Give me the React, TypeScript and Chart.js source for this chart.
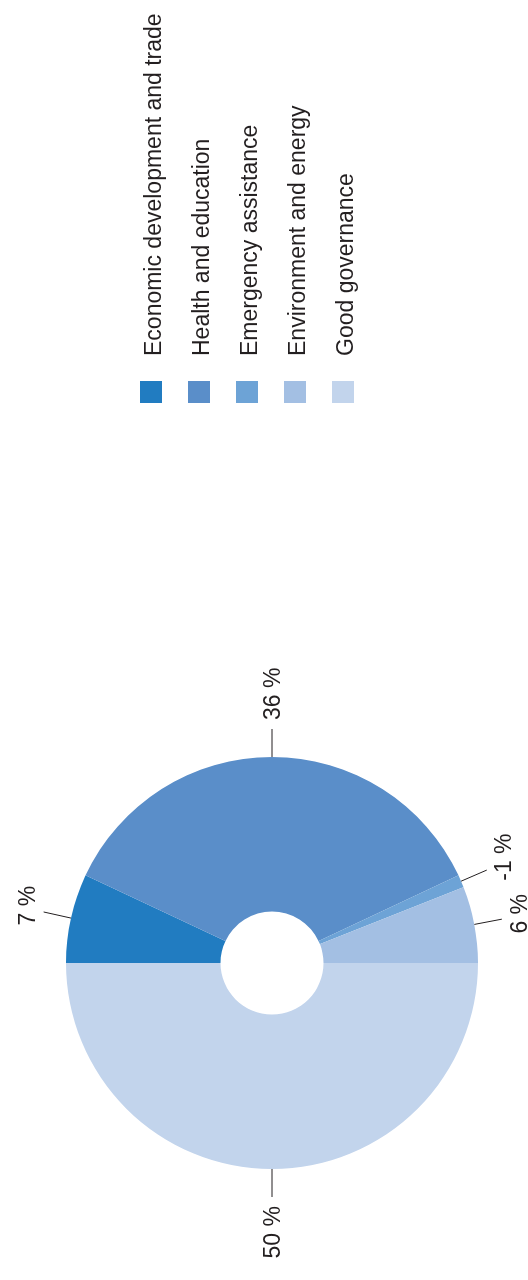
import React, { useEffect, useRef } from "react";
import { Chart, registerables } from "chart.js";

Chart.register(...registerables);

// ---- data ----
const categories = [
  "Economic development and trade",
  "Health and education",
  "Emergency assistance",
  "Environment and energy",
  "Good governance",
];
const shares = [7, 36, -1, 6, 50];
const colors = ["#217CC1", "#5A8EC9", "#6DA3D6", "#A3BFE3", "#C2D4EC"];

const FONT = '"Liberation Sans", Arial, Helvetica, sans-serif';
const TEXT_COLOR = "#231F20";

const labelPlugin = {
  id: "outLabels",
  afterDatasetsDraw(chart: any) {
    const ctx = chart.ctx as CanvasRenderingContext2D;
    const meta = chart.getDatasetMeta(0);
    const size = 23;
    const capH = size * 0.716;
    ctx.save();
    ctx.font = `${size}px ${FONT}`;
    ctx.fillStyle = TEXT_COLOR;
    ctx.strokeStyle = "#231F20";
    ctx.lineWidth = 1;
    meta.data.forEach((arc: any, i: number) => {
      const p = arc.getProps(["x", "y", "startAngle", "endAngle", "outerRadius"], true);
      const mid = (p.startAngle + p.endAngle) / 2;
      const dx = Math.cos(mid);
      const dy = Math.sin(mid);
      const r0 = p.outerRadius;
      const r1 = p.outerRadius + 28;
      ctx.beginPath();
      ctx.moveTo(p.x + dx * r0, p.y + dy * r0);
      ctx.lineTo(p.x + dx * r1, p.y + dy * r1);
      ctx.stroke();
      const text = `${shares[i]} %`;
      const w = ctx.measureText(text).width;
      const gap = 9;
      const cx = p.x + dx * (r1 + gap) + (dx * w) / 2;
      const cy = p.y + dy * (r1 + gap) + (dy * capH) / 2;
      ctx.textAlign = "center";
      ctx.textBaseline = "alphabetic";
      ctx.fillText(text, cx, cy + capH / 2);
    });
    ctx.restore();
  },
};

const legendPlugin = {
  id: "sideLegend",
  afterDraw(chart: any) {
    const ctx = chart.ctx as CanvasRenderingContext2D;
    const area = chart.chartArea;
    const boxX = area.right + 354;
    const top = 140;
    const step = 48;
    const box = 22;
    const size = 23;
    const capH = size * 0.716;
    ctx.save();
    ctx.font = `${size}px ${FONT}`;
    ctx.textAlign = "left";
    ctx.textBaseline = "alphabetic";
    categories.forEach((label, i) => {
      const y = top + i * step;
      ctx.fillStyle = colors[i];
      ctx.fillRect(boxX, y, box, box);
      ctx.fillStyle = TEXT_COLOR;
      ctx.fillText(label, boxX + box + 25, y + box / 2 + capH / 2 + 1.5);
    });
    ctx.restore();
  },
};

export default function App() {
  const ref = useRef<HTMLCanvasElement | null>(null);

  useEffect(() => {
    if (!ref.current) return;
    const chart = new Chart(ref.current, {
      type: "doughnut",
      data: {
        labels: categories,
        datasets: [
          {
            data: shares,
            backgroundColor: colors,
            borderWidth: 0,
            hoverOffset: 0,
          },
        ],
      },
      options: {
        responsive: false,
        animation: false,
        events: [],
        cutout: "25%",
        layout: { padding: { left: 111, right: 757, top: 66, bottom: 50 } },
        plugins: {
          legend: { display: false },
          tooltip: { enabled: false },
        },
      },
      plugins: [labelPlugin, legendPlugin],
    });
    return () => chart.destroy();
  }, []);

  return (
    <div
      style={{
        position: "fixed",
        left: 0,
        top: 0,
        width: 528,
        height: 1280,
        overflow: "hidden",
        background: "#fff",
      }}
    >
      <div
        style={{
          position: "absolute",
          left: 0,
          top: 0,
          width: 1280,
          height: 528,
          transformOrigin: "0 0",
          transform: "translate(0px, 1280px) rotate(-90deg)",
        }}
      >
        <canvas ref={ref} width={1280} height={528} style={{ display: "block" }} />
      </div>
    </div>
  );
}
